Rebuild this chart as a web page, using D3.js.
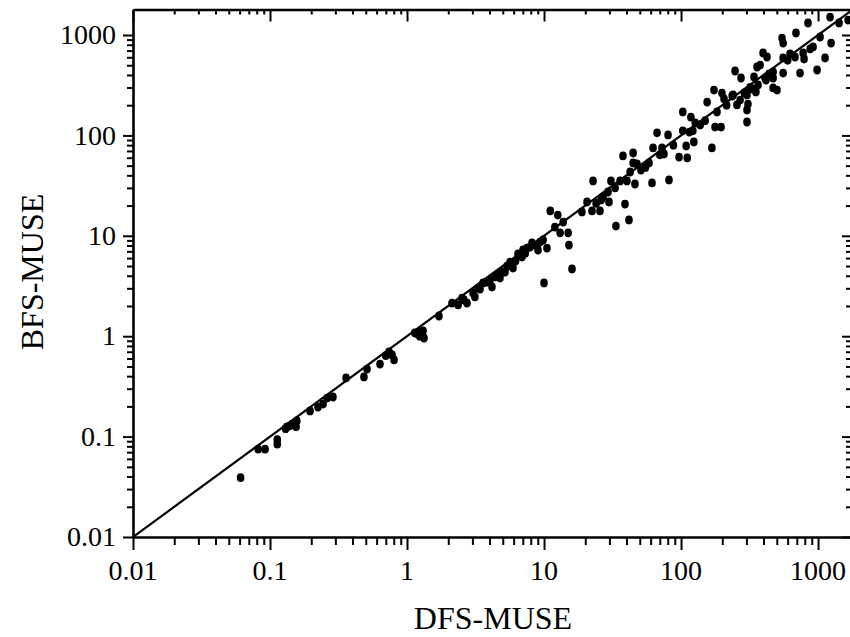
<!DOCTYPE html>
<html>
<head>
<meta charset="utf-8">
<script src="https://cdn.jsdelivr.net/npm/d3@7"></script>
<style>
  html, body { margin: 0; padding: 0; background: #fff; }
  svg { display: block; }
</style>
</head>
<body>
<svg id="chart" width="850" height="637"></svg>
<script>
// ---- data ----
const dfsMuse = [
  0.061,0.082,0.092,0.113,0.113,0.133,0.145,0.155,0.157,0.196,0.224,0.244,0.261,0.288,0.359,0.485,0.511,0.635,0.740,0.778,0.804,1.14,1.22,1.31,1.33,1.71,
  2.13,2.36,2.52,2.74,3.03,3.13,3.59,4.04,4.17,4.39,4.94,4.77,5.37,6.90,7.03,7.51,7.91,8.60,9.35,10.5,10.0,6.46,5.19,
  11.1,12.6,12.0,13.8,13.1,15.0,15.2,16.0,18.9,20.6,22.4,25.6,26.1,22.8,29.8,29.3,30.8,35.9,40.3,39.0,41.7,33.5,46.1,42.5,47.7,51.0,44.7,37.7,44.7,58.4,61.4,62.5,72.6,75.1,66.8,81.7,80.4,96.7,111,103,109,122,124,103,118,127,138,
  168,177,196,183,155,174,199,206,236,256,303,308,303,303,330,352,274,248,341,359,378,410,397,424,470,470,417,470,502,546,556,556,625,679,690,739,778,791,875,920,984,1035,1125,845,1224,1245,1423,1656,556,365,270,240,
  5.65,4.54,5.94,8.17,9.04,3.41,1.24,9.84,
  0.130,0.140,0.700,1.18,2.60,3.30,3.80,4.60,5.80,6.20,7.30,8.90,24.0,27.0,33.0,55.0,70.0,88.0,115,150,215,290,320,440,600
];
const bfsMuse = [
  0.039,0.075,0.075,0.093,0.084,0.125,0.133,0.125,0.143,0.180,0.197,0.211,0.242,0.248,0.384,0.393,0.471,0.528,0.697,0.650,0.580,1.08,1.10,1.13,0.96,1.59,
  2.14,2.05,2.40,2.14,2.69,2.46,3.39,3.63,3.09,3.89,4.36,3.80,5.00,6.15,7.22,7.55,7.73,8.09,8.67,7.55,3.39,6.59,4.36,
  17.7,16.1,12.2,13.7,10.7,10.7,8.09,4.67,17.3,21.7,17.7,17.7,22.7,35.2,21.7,27.3,35.2,35.2,35.2,20.7,14.4,12.5,32.8,43.2,51.9,45.2,53.1,62.4,66.8,53.1,33.6,75.0,75.0,65.3,106,36.0,101,60.9,59.6,111,78.4,111,86.0,171,152,133,127,
  75.0,121,121,171,215,283,264,231,247,201,179,205,136,253,290,271,373,438,382,480,502,373,662,604,428,373,356,297,283,933,832,590,647,604,1047,418,662,577,726,760,448,955,590,1318,1510,832,1318,1410,418,318,225,253,
  5.48,4.07,4.78,8.48,7.22,2.95,1.00,9.08,
  0.120,0.128,0.640,1.06,2.30,3.00,3.45,4.10,5.20,5.60,6.70,8.00,21.0,24.5,30.0,48.0,64.0,80.0,108,140,200,265,300,410,560
];
const majorTickValues = [0.01, 0.1, 1, 10, 100, 1000];
const majorTickLabels = ["0.01", "0.1", "1", "10", "100", "1000"];
const xTitle = "DFS-MUSE";
const yTitle = "BFS-MUSE";
const xDomain = [0.01, 1740];
const yDomain = [0.01, 1795];

// ---- layout ----
const L = 133, R = 851, T = 9.5, B = 537;
const FONT = "'Liberation Serif', 'Times New Roman', Times, serif";

const svg = d3.select("#chart");
const x = d3.scaleLog().domain(xDomain).range([L, R]);
const y = d3.scaleLog().domain(yDomain).range([B, T]);

const isMajor = v => majorTickValues.some(m => Math.abs(m - v) / m < 1e-9);
const xTicks = x.ticks();
const yTicks = y.ticks();

// clip
svg.append("defs").append("clipPath").attr("id", "plotclip")
  .append("rect").attr("x", L).attr("y", T).attr("width", R - L).attr("height", B - T);

// diagonal y = x
const lo = Math.max(xDomain[0], yDomain[0]);
const hi = Math.max(xDomain[1], yDomain[1]);
svg.append("line")
  .attr("clip-path", "url(#plotclip)")
  .attr("x1", x(lo)).attr("y1", y(lo))
  .attr("x2", x(hi)).attr("y2", y(hi))
  .attr("stroke", "#000").attr("stroke-width", 2.2);

// points
const pts = dfsMuse.map((d, i) => ({ x: d, y: bfsMuse[i] }));
svg.append("g").attr("clip-path", "url(#plotclip)")
  .selectAll("ellipse").data(pts).join("ellipse")
  .attr("cx", d => x(d.x)).attr("cy", d => y(d.y))
  .attr("rx", 3.8).attr("ry", 4.4)
  .attr("fill", "#000");

function styleAxis(g) {
  g.select(".domain").attr("stroke", "#000").attr("stroke-width", 2.6);
  g.selectAll(".tick line").attr("stroke", "#000").attr("stroke-width", 2);
  g.selectAll(".tick text").remove();
}

// bottom axis (ticks outward)
const gb = svg.append("g").attr("transform", `translate(0,${B})`)
  .call(d3.axisBottom(x).tickValues(xTicks).tickFormat("").tickSizeOuter(0));
styleAxis(gb);
gb.selectAll(".tick line").attr("y2", d => isMajor(d) ? 13 : 8);

// top axis (ticks inward)
const gt = svg.append("g").attr("transform", `translate(0,${T})`)
  .call(d3.axisTop(x).tickValues(xTicks).tickFormat("").tickSizeOuter(0));
styleAxis(gt);
gt.selectAll(".tick line").attr("y2", d => isMajor(d) ? 12 : 5);

// left axis (ticks outward)
const gl = svg.append("g").attr("transform", `translate(${L},0)`)
  .call(d3.axisLeft(y).tickValues(yTicks).tickFormat("").tickSizeOuter(0));
styleAxis(gl);
gl.selectAll(".tick line").attr("x2", d => isMajor(d) ? -10 : -6);

// right axis (ticks inward)
const gr = svg.append("g").attr("transform", `translate(${R},0)`)
  .call(d3.axisRight(y).tickValues(yTicks).tickFormat("").tickSizeOuter(0));
styleAxis(gr);
gr.selectAll(".tick line").attr("x2", d => isMajor(d) ? -9 : -5);

// tick labels
svg.append("g").selectAll("text").data(majorTickValues).join("text")
  .attr("x", d => x(d)).attr("y", 580)
  .attr("text-anchor", "middle")
  .attr("font-family", FONT).attr("font-size", 28).attr("fill", "#000")
  .text((d, i) => majorTickLabels[i]);

svg.append("g").selectAll("text").data(majorTickValues).join("text")
  .attr("x", 116).attr("y", d => y(d)).attr("dy", "0.33em")
  .attr("text-anchor", "end")
  .attr("font-family", FONT).attr("font-size", 28).attr("fill", "#000")
  .text((d, i) => majorTickLabels[i]);

// axis titles
svg.append("text")
  .attr("x", 493).attr("y", 629)
  .attr("text-anchor", "middle")
  .attr("font-family", FONT).attr("font-size", 32).attr("fill", "#000")
  .text(xTitle);

svg.append("text")
  .attr("transform", `translate(43,272) rotate(-90)`)
  .attr("text-anchor", "middle")
  .attr("font-family", FONT).attr("font-size", 32).attr("fill", "#000")
  .text(yTitle);
</script>
</body>
</html>
